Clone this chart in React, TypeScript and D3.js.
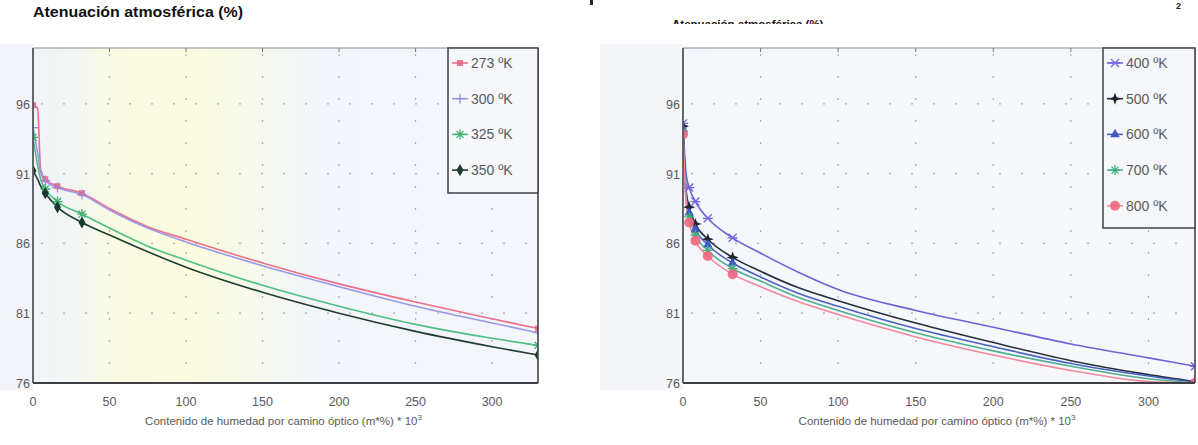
import React from "react";
import * as d3 from "d3";

// ---------- DATA ----------
const xTicks = [0, 50, 100, 150, 200, 250, 300];
const yTicks = [76, 81, 86, 91, 96];
const xDomain = [0, 330];
const yDomain = [76, 100];

const leftX = [0, 3, 5, 8, 16, 32, 50, 75, 100, 150, 200, 250, 300, 330];
const leftMarkerX = [0, 8, 16, 32, 330];
const t273 = [95.9, 95.7, 91.3, 90.6, 90.1, 89.6, 88.5, 87.2, 86.3, 84.6, 83.1, 81.8, 80.6, 79.9];
const t300 = [94.3, 92.5, 91.1, 90.5, 90.0, 89.5, 88.4, 87.1, 86.1, 84.4, 82.9, 81.5, 80.3, 79.6];
const t325 = [93.6, 91.6, 90.6, 89.9, 89.0, 88.1, 87.1, 85.8, 84.8, 83.0, 81.5, 80.2, 79.2, 78.7];
const t350 = [91.2, 90.6, 90.1, 89.6, 88.6, 87.5, 86.6, 85.4, 84.3, 82.5, 81.0, 79.7, 78.6, 78.0];

const rightX = [0, 2, 4, 8, 16, 32, 50, 75, 100, 150, 200, 250, 300, 330];
const rightMarkerX = [0, 4, 8, 16, 32, 330];
const t400 = [94.6, 91.0, 90.0, 89.0, 87.8, 86.4, 85.3, 83.9, 82.7, 81.2, 80.0, 78.8, 77.8, 77.2];
const t500 = [94.4, 89.8, 88.6, 87.4, 86.3, 85.0, 84.0, 82.8, 81.9, 80.3, 78.9, 77.6, 76.6, 76.1];
const t600 = [94.2, 89.5, 88.2, 87.0, 85.9, 84.6, 83.6, 82.4, 81.5, 79.9, 78.6, 77.4, 76.5, 76.05];
const t700 = [94.0, 89.2, 87.9, 86.6, 85.5, 84.2, 83.3, 82.1, 81.2, 79.6, 78.3, 77.2, 76.3, 76.0];
const t800 = [93.8, 88.9, 87.5, 86.2, 85.1, 83.8, 82.9, 81.8, 80.9, 79.3, 78.0, 76.9, 76.1, 76.0];

const titleText = "Atenuación atmosférica (%)";
const xLabelText = "Contenido de humedad por camino óptico (m*%) * 10";

type Series = { name: string; values: number[]; color: string; marker: string; mColor: string };

const leftSeries: Series[] = [
  { name: "273 ºK", values: t273, color: "#ee6f8a", marker: "square", mColor: "#e8607a" },
  { name: "300 ºK", values: t300, color: "#9a98e6", marker: "plus", mColor: "#8f8de0" },
  { name: "325 ºK", values: t325, color: "#4fbf82", marker: "asterisk", mColor: "#40b070" },
  { name: "350 ºK", values: t350, color: "#1f3d33", marker: "diamond", mColor: "#1a3a2e" },
];
const rightSeries: Series[] = [
  { name: "400 ºK", values: t400, color: "#6e62d6", marker: "x", mColor: "#7466e0" },
  { name: "500 ºK", values: t500, color: "#25303c", marker: "star4", mColor: "#1c2430" },
  { name: "600 ºK", values: t600, color: "#4a62c4", marker: "triangle", mColor: "#4058c8" },
  { name: "700 ºK", values: t700, color: "#4fae8e", marker: "asterisk", mColor: "#3fb07a" },
  { name: "800 ºK", values: t800, color: "#f2889a", marker: "circle", mColor: "#ef6680" },
];

// ---------- MARKERS ----------
function Marker({ type, x, y, color }: { type: string; x: number; y: number; color: string }) {
  const t = `translate(${x},${y})`;
  switch (type) {
    case "square":
      return <rect transform={t} x={-3} y={-3} width={6} height={6} fill={color} opacity={0.85} />;
    case "plus":
      return <path transform={t} d="M-5,0H5M0,-5V5" stroke={color} strokeWidth={1.2} fill="none" />;
    case "x":
      return <path transform={t} d="M-4,-4L4,4M-4,4L4,-4M-5,0H5" stroke={color} strokeWidth={1.3} fill="none" />;
    case "asterisk":
      return <path transform={t} d="M-5,0H5M0,-5V5M-3.5,-3.5L3.5,3.5M-3.5,3.5L3.5,-3.5" stroke={color} strokeWidth={1.3} fill="none" />;
    case "diamond":
      return <path transform={t} d={d3.symbol(d3.symbolDiamond, 42)() as string} fill={color} />;
    case "star4":
      return <path transform={t} d="M0,-6L1.6,-1.6L6,0L1.6,1.6L0,6L-1.6,1.6L-6,0L-1.6,-1.6Z" fill={color} />;
    case "triangle":
      return <path transform={t} d={d3.symbol(d3.symbolTriangle, 40)() as string} fill={color} />;
    case "circle":
      return <circle cx={x} cy={y} r={5} fill={color} opacity={0.9} />;
    default:
      return null;
  }
}

type PanelProps = {
  id: string;
  x0: number; x1: number; y0: number; y1: number;
  xs: number[]; markerXs: number[];
  series: Series[];
  legend: { x0: number; x1: number; y1: number };
  bgId: string;
};

function Panel({ id, x0, x1, y0, y1, xs, markerXs, series, legend, bgId }: PanelProps) {
  const xScale = d3.scaleLinear().domain(xDomain).range([x0, x1]);
  const yScale = d3.scaleLinear().domain(yDomain).range([y1, y0]);
  const line = d3
    .line<number>()
    .x((_, i) => xScale(xs[i]))
    .y((d) => yScale(d))
    .curve(d3.curveMonotoneX);
  const gridColor = "#a9acb4";
  const textColor = "#5a5a5a";
  const font = "Liberation Sans, Arial, sans-serif";
  return (
    <g>
      <defs>
        <clipPath id={`clip-${id}`}>
          <rect x={x0} y={y0} width={x1 - x0} height={y1 - y0} />
        </clipPath>
      </defs>
      <rect x={x0} y={y0} width={x1 - x0} height={y1 - y0} fill={`url(#${bgId})`} />
      {/* grid */}
      {xTicks.filter((t) => t > 0).map((t) => (
        <line key={`gx${t}`} x1={xScale(t)} x2={xScale(t)} y1={y0} y2={y1}
          stroke={gridColor} strokeWidth={1.2} strokeDasharray="2,20" strokeDashoffset={-6} />
      ))}
      {yTicks.filter((t) => t > 76).map((t) => (
        <line key={`gy${t}`} x1={x0} x2={x1} y1={yScale(t)} y2={yScale(t)}
          stroke={gridColor} strokeWidth={1.2} strokeDasharray="2,20" strokeDashoffset={-8} />
      ))}
      {/* small top ticks */}
      {xTicks.filter((t) => t > 0).map((t) => (
        <line key={`tt${t}`} x1={xScale(t)} x2={xScale(t)} y1={y0} y2={y0 + 4} stroke="#777" strokeWidth={1} />
      ))}
      {/* series */}
      <g clipPath={`url(#clip-${id})`}>
        {series.map((s) => (
          <path key={s.name} d={line(s.values) as string} fill="none" stroke={s.color} strokeWidth={1.6} />
        ))}
        {series.map((s) =>
          markerXs.map((mx) => {
            const i = xs.indexOf(mx);
            return <Marker key={`${s.name}-${mx}`} type={s.marker} x={xScale(xs[i])} y={yScale(s.values[i])} color={s.mColor} />;
          })
        )}
      </g>
      {/* frame */}
      <line x1={x0} x2={x1} y1={y0} y2={y0} stroke="#8a8d94" strokeWidth={1} />
      <line x1={x1} x2={x1} y1={y0} y2={y1} stroke="#45474c" strokeWidth={1.6} />
      <line x1={x0} x2={x1} y1={y1} y2={y1} stroke="#3d3f44" strokeWidth={1.8} />
      <line x1={x0} x2={x0} y1={y0} y2={y1} stroke="#55575c" strokeWidth={1.8} />
      {/* tick labels */}
      {xTicks.map((t) => (
        <text key={`xl${t}`} x={xScale(t)} y={y1 + 23} textAnchor="middle" fontSize={12.5} fill={textColor} fontFamily={font}>
          {t}
        </text>
      ))}
      {yTicks.map((t) => (
        <text key={`yl${t}`} x={x0 - 3} y={yScale(t) + 5} textAnchor="end" fontSize={12.5} fill={textColor} fontFamily={font}>
          {t}
        </text>
      ))}
      <text x={(x0 + x1) / 2 - 2} y={y1 + 42} textAnchor="middle" fontSize={11.5} fill={textColor} fontFamily={font}>
        {xLabelText}
        <tspan dy={-5} fontSize={8}>3</tspan>
      </text>
      {/* legend */}
      <rect x={legend.x0} y={y0} width={legend.x1 - legend.x0} height={legend.y1 - y0}
        fill="#f5f7fb" stroke="#4a4c52" strokeWidth={1.6} />
      {series.map((s, i) => {
        const ly = y0 + 15 + i * 35.7;
        return (
          <g key={`lg${s.name}`}>
            <line x1={legend.x0 + 4} x2={legend.x0 + 20} y1={ly} y2={ly} stroke={s.color} strokeWidth={1.6} />
            <Marker type={s.marker} x={legend.x0 + 12} y={ly} color={s.mColor} />
            <text x={legend.x0 + 23} y={ly + 5} fontSize={14} fill={textColor} fontFamily={font}>
              {s.name}
            </text>
          </g>
        );
      })}
    </g>
  );
}

export default function App() {
  const W = 1198;
  const H = 445;
  const font = "Liberation Sans, Arial, sans-serif";
  return (
    <svg width={W} height={H} style={{ position: "absolute", left: 0, top: 0, background: "#ffffff" }}>
      <defs>
        <linearGradient id="bgLeft" x1="0" x2="1" y1="0" y2="0">
          <stop offset="0%" stopColor="#f0f3fa" />
          <stop offset="9%" stopColor="#f3f6f1" />
          <stop offset="16%" stopColor="#fafbe2" />
          <stop offset="33%" stopColor="#fbfcdf" />
          <stop offset="46%" stopColor="#f5f8ee" />
          <stop offset="56%" stopColor="#f2f5fa" />
          <stop offset="100%" stopColor="#f4f6fb" />
        </linearGradient>
        <linearGradient id="bgRight" x1="0" x2="1" y1="0" y2="0">
          <stop offset="0%" stopColor="#f4f6fb" />
          <stop offset="100%" stopColor="#f6f8fc" />
        </linearGradient>
        <clipPath id="titleClip">
          <rect x={560} y={0} width={638} height={24} />
        </clipPath>
      </defs>
      {/* faint page tint left of the plots */}
      <rect x={0} y={44} width={33} height={346} fill="#f2f4f9" />
      <rect x={600} y={44} width={83} height={346} fill="#f3f5f9" />

      <text x={33} y={17} fontSize={14} fill="#111" fontFamily={font} fontWeight={600}
        textLength={210} lengthAdjust="spacingAndGlyphs">
        {titleText}
      </text>
      <text x={672} y={28} fontSize={11.5} fill="#111" fontFamily={font} fontWeight={600} clipPath="url(#titleClip)">
        {titleText}
      </text>
      <rect x={590} y={0} width={3} height={5} fill="#222" />
      <text x={1176} y={9} fontSize={9} fill="#222" fontFamily={font} fontWeight={700}>2</text>

      <Panel id="L" x0={33} x1={538} y0={48} y1={383} xs={leftX} markerXs={leftMarkerX}
        series={leftSeries} legend={{ x0: 448, x1: 538, y1: 193 }} bgId="bgLeft" />
      <Panel id="R" x0={683} x1={1195} y0={48} y1={383} xs={rightX} markerXs={rightMarkerX}
        series={rightSeries} legend={{ x0: 1103, x1: 1195, y1: 228 }} bgId="bgRight" />
    </svg>
  );
}
